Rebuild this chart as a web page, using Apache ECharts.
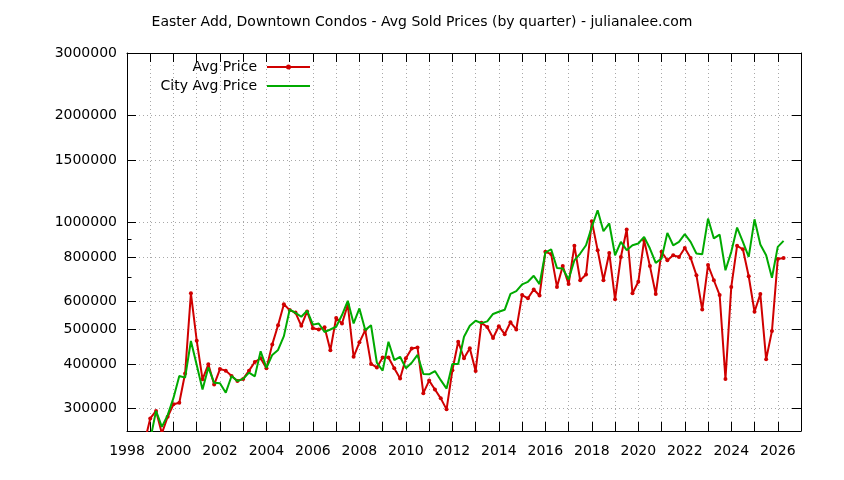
<!DOCTYPE html>
<html><head><meta charset="utf-8">
<script src="https://cdn.jsdelivr.net/npm/echarts@6/dist/echarts.min.js"></script>
<style>html,body{margin:0;padding:0;background:#fff}#c{width:844px;height:480px}</style>
</head><body><div id="c"></div>
<script>
const chartTitle = 'Easter Add, Downtown Condos - Avg Sold Prices (by quarter) - julianalee.com';
const seriesNames = ['Avg Price', 'City Avg Price'];

const quarters = [1998.75,
 1999, 1999.25, 1999.5, 1999.75,
 2000, 2000.25, 2000.5, 2000.75,
 2001, 2001.25, 2001.5, 2001.75,
 2002, 2002.25, 2002.5, 2002.75,
 2003, 2003.25, 2003.5, 2003.75,
 2004, 2004.25, 2004.5, 2004.75,
 2005, 2005.25, 2005.5, 2005.75,
 2006, 2006.25, 2006.5, 2006.75,
 2007, 2007.25, 2007.5, 2007.75,
 2008, 2008.25, 2008.5, 2008.75,
 2009, 2009.25, 2009.5, 2009.75,
 2010, 2010.25, 2010.5, 2010.75,
 2011, 2011.25, 2011.5, 2011.75,
 2012, 2012.25, 2012.5, 2012.75,
 2013, 2013.25, 2013.5, 2013.75,
 2014, 2014.25, 2014.5, 2014.75,
 2015, 2015.25, 2015.5, 2015.75,
 2016, 2016.25, 2016.5, 2016.75,
 2017, 2017.25, 2017.5, 2017.75,
 2018, 2018.25, 2018.5, 2018.75,
 2019, 2019.25, 2019.5, 2019.75,
 2020, 2020.25, 2020.5, 2020.75,
 2021, 2021.25, 2021.5, 2021.75,
 2022, 2022.25, 2022.5, 2022.75,
 2023, 2023.25, 2023.5, 2023.75,
 2024, 2024.25, 2024.5, 2024.75,
 2025, 2025.25, 2025.5, 2025.75,
 2026, 2026.25];

const avgPrice = [240000,
 281000, 295000, 255000, 284000,
 308000, 311000, 376000, 632000,
 465000, 362000, 399000, 350000,
 387000, 383000, 370000, 358000,
 363000, 383000, 405000, 415000,
 389000, 454000, 514000, 589000,
 567000, 558000, 512000, 562000,
 504000, 500000, 507000, 437000,
 539000, 520000, 587000, 419000,
 460000, 498000, 400000, 391000,
 417000, 417000, 389000, 364000,
 415000, 442000, 445000, 331000,
 359000, 339000, 320000, 298000,
 384000, 462000, 415000, 443000,
 382000, 522000, 508000, 473000,
 511000, 485000, 524000, 500000,
 625000, 612000, 648000, 623000,
 827000, 815000, 659000, 754000,
 671000, 860000, 688000, 714000,
 1008000, 836000, 688000, 821000,
 608000, 800000, 956000, 632000,
 681000, 892000, 754000, 629000,
 827000, 783000, 809000, 800000,
 848000, 795000, 711000, 569000,
 759000, 688000, 625000, 363000,
 659000, 860000, 841000, 706000,
 561000, 629000, 412000, 495000,
 789000, 795000];

const cityAvgPrice = [null,
 245000, 295000, 266000, 287000,
 321000, 370000, 366000, 464000,
 397000, 339000, 391000, 354000,
 353000, 332000, 370000, 358000,
 363000, 378000, 369000, 434000,
 390000, 424000, 438000, 479000,
 569000, 557000, 543000, 565000,
 516000, 520000, 492000, 500000,
 509000, 549000, 602000, 520000,
 573000, 498000, 514000, 403000,
 383000, 462000, 410000, 419000,
 389000, 403000, 424000, 375000,
 374000, 382000, 360000, 341000,
 400000, 400000, 477000, 512000,
 529000, 521000, 527000, 553000,
 561000, 568000, 630000, 641000,
 670000, 681000, 708000, 671000,
 823000, 841000, 745000, 742000,
 691000, 783000, 818000, 863000,
 972000, 1083000, 945000, 994000,
 809000, 882000, 836000, 863000,
 873000, 911000, 845000, 770000,
 792000, 935000, 863000, 882000,
 928000, 882000, 818000, 814000,
 1026000, 902000, 925000, 734000,
 827000, 968000, 882000, 800000,
 1021000, 867000, 809000, 699000,
 854000, 888000];

const yTickValues = [300000, 400000, 500000, 600000, 800000, 1000000, 1500000, 2000000, 3000000];
const yMinorTickValues = [700000, 900000];

const FONT = 'DejaVu Sans';
const RED = '#d00000';
const GREEN = '#00aa00';
const Y_MIN = 259000, Y_MAX = 3000000;
const X_MIN = 1998, X_MAX = 2027;

const dotted = {color: '#a8a8a8', type: [1, 3], width: 1};
const blackLine = {show: true, lineStyle: {color: '#000', width: 1}};
const textBase = {fontFamily: FONT, fontSize: 14, color: '#000'};

function yAxis(pos, ticks, len, labels, split, line) {
  return {
    type: 'log', min: Y_MIN, max: Y_MAX, position: pos,
    axisLine: line ? blackLine : {show: false},
    axisTick: {show: true, inside: true, length: len, customValues: ticks, lineStyle: {color: '#000', width: 1}},
    axisLabel: labels ? Object.assign({show: true, customValues: ticks, margin: 10, formatter: v => String(Math.round(v))}, textBase) : {show: false},
    splitLine: split ? {show: true, lineStyle: dotted} : {show: false},
    minorTick: {show: false}, minorSplitLine: {show: false}
  };
}

// legend sample icons (line sample, with a small point for the red series)
const redIcon = 'path://M0,1.5h43v2h-43z M24,2.5a2.5,2.5 0 1,1 -5,0a2.5,2.5 0 1,1 5,0z';

const chart = echarts.init(document.getElementById('c'), null, {renderer: 'canvas'});
chart.setOption({
  animation: false,
  backgroundColor: '#fff',
  title: {text: chartTitle, left: 'center', top: 10, textStyle: Object.assign({fontWeight: 'normal'}, textBase)},
  grid: {left: 127, right: 43, top: 53, bottom: 49, show: false},
  legend: [
    {data: [{name: seriesNames[0], icon: redIcon, itemStyle: {color: RED}}], orient: 'vertical', align: 'right', right: 529, top: 55, itemWidth: 43, itemHeight: 5, selectedMode: false, textStyle: Object.assign({padding: [0, 5, 0, 0]}, textBase)},
    {data: [{name: seriesNames[1], icon: 'rect', itemStyle: {color: GREEN}}], orient: 'vertical', align: 'right', right: 529, top: 74, itemWidth: 43, itemHeight: 2, selectedMode: false, textStyle: Object.assign({padding: [0, 5, 0, 0]}, textBase)}
  ],
  xAxis: [
    {type: 'value', min: X_MIN, max: X_MAX, interval: 1, position: 'bottom',
     axisLine: blackLine,
     axisTick: {show: true, inside: true, length: 9, lineStyle: {color: '#000'}},
     axisLabel: Object.assign({margin: 13, formatter: v => (v % 2 === 0 ? String(v) : '')}, textBase),
     splitLine: {show: true, lineStyle: dotted}},
    {type: 'value', min: X_MIN, max: X_MAX, interval: 1, position: 'top',
     axisLine: blackLine,
     axisTick: {show: true, inside: true, length: 9, lineStyle: {color: '#000'}},
     axisLabel: {show: false}, splitLine: {show: false}}
  ],
  yAxis: [
    yAxis('left', yTickValues, 9, true, true, true),
    yAxis('right', yTickValues, 9, false, false, true),
    yAxis('left', yMinorTickValues, 4.5, false, false, false),
    yAxis('right', yMinorTickValues, 4.5, false, false, false)
  ],
  series: [
    {name: seriesNames[0], type: 'line', xAxisIndex: 0, yAxisIndex: 0,
     data: quarters.map((q, i) => [q, avgPrice[i]]),
     symbol: 'circle', symbolSize: 4, showSymbol: true,
     lineStyle: {color: RED, width: 2}, itemStyle: {color: RED}, z: 2},
    {name: seriesNames[1], type: 'line', xAxisIndex: 0, yAxisIndex: 0,
     data: quarters.map((q, i) => [q, cityAvgPrice[i]]).filter(d => d[1] !== null),
     symbol: 'none', showSymbol: false,
     lineStyle: {color: GREEN, width: 2}, itemStyle: {color: GREEN}, z: 3}
  ]
});
</script></body></html>
